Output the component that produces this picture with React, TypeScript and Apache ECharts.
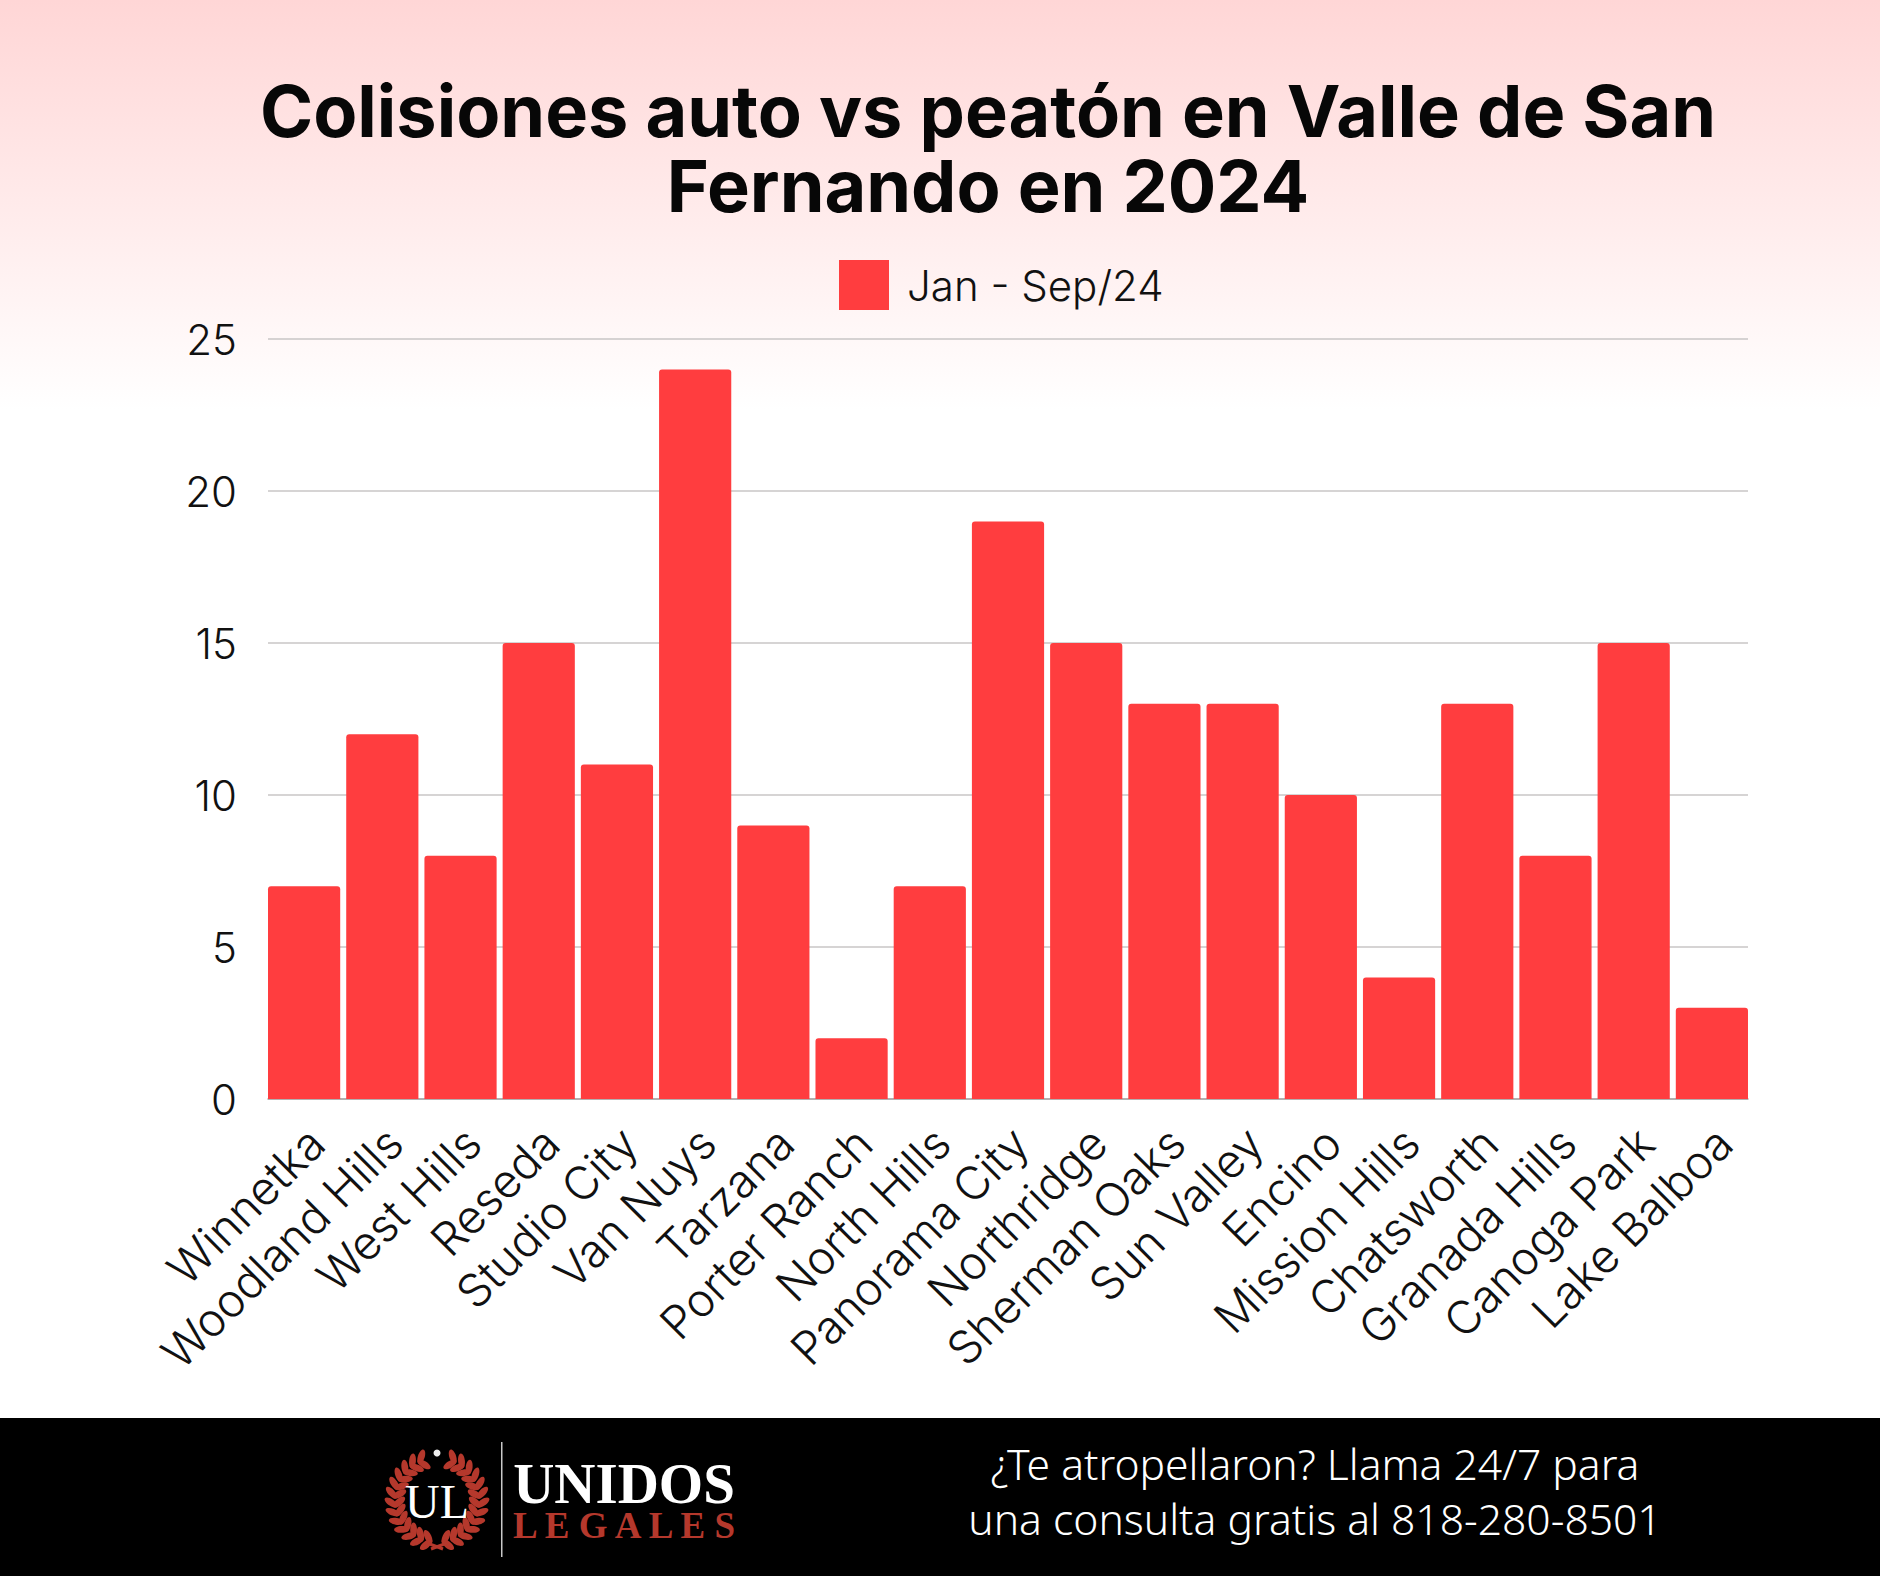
import React, { useEffect, useRef } from "react";
import * as echarts from "echarts";

const categories = ["Winnetka","Woodland Hills","West Hills","Reseda","Studio City","Van Nuys","Tarzana","Porter Ranch","North Hills","Panorama City","Northridge","Sherman Oaks","Sun Valley","Encino","Mission Hills","Chatsworth","Granada Hills","Canoga Park","Lake Balboa"];
const collisions = [7,12,8,15,11,24,9,2,7,19,15,13,13,10,4,13,8,15,3];
const seriesName = "Jan - Sep/24";
const titleLines = "Colisiones auto vs peatón en Valle de San\nFernando en 2024";
const footerLines = ["¿Te atropellaron? Llama 24/7 para", "una consulta gratis al 818-280-8501"];

const RED = "#ff3d3f";
const LOGO_RED = "#b5382c";

function wreathLeaves() {
  const cx = 437, cy = 1500, leaves: any[] = [];
  for (const side of [-1, 1]) {
    for (let i = 0; i < 13; i++) {
      const deg = 20 + i * 12.2;
      const a = (deg * Math.PI) / 180;
      for (const [r, off] of [[38, 38], [46, -38]]) {
        const x = cx + side * r * Math.sin(a);
        const y = cy - r * Math.cos(a);
        leaves.push({
          type: "ellipse", x, y, rotation: -side * (a + (off * Math.PI) / 180),
          shape: { cx: 0, cy: 0, rx: 3.4, ry: 7.5 },
          style: { fill: LOGO_RED }, silent: true,
        });
      }
    }
    leaves.push({
      type: "line", shape: { x1: cx + side * 10, y1: 1543, x2: cx - side * 6, y2: 1549 },
      style: { stroke: LOGO_RED, lineWidth: 3 }, silent: true,
    });
  }
  return leaves;
}

export default function App() {
  const ref = useRef<HTMLDivElement>(null);
  useEffect(() => {
    const chart = echarts.init(ref.current!, undefined, { renderer: "svg" });
    chart.setOption({
      animation: false,
      backgroundColor: new echarts.graphic.LinearGradient(0, 0, 0, 1, [
        { offset: 0, color: "#ffd6d6" },
        { offset: 0.26, color: "#ffffff" },
        { offset: 1, color: "#ffffff" },
      ]),
      title: {
        text: titleLines, left: 983, top: 68, textAlign: "center",
        textStyle: { fontFamily: "Inter", fontWeight: 700, fontSize: 72, lineHeight: 75, color: "#070707" },
      },
      legend: {
        left: 834, top: 255, itemWidth: 50, itemHeight: 50, icon: "rect",
        textStyle: { fontFamily: "Inter", fontWeight: 300, fontSize: 42, color: "#111111", padding: [0, 0, 0, 13] },
      },
      grid: [
        { left: 268, right: 132, top: 339, bottom: 477 },
        { left: 265, right: 129, top: 339, bottom: 477 },
        { left: 277, right: 117, top: 339, bottom: 477 },
      ],
      xAxis: [
        {
          type: "value", gridIndex: 0, min: 0, max: 1,
          axisLine: { show: true, lineStyle: { color: "#a8a4a4", width: 1.5 } },
          axisTick: { show: false }, axisLabel: { show: false }, splitLine: { show: false },
        },
        {
          type: "category", gridIndex: 1, data: categories,
          axisLine: { show: false }, axisTick: { show: false }, axisLabel: { show: false },
        },
        {
          type: "category", gridIndex: 2, data: categories,
          axisLine: { show: false },
          axisTick: { show: false },
          axisLabel: {
            rotate: 45, interval: 0, margin: 36,
            fontFamily: "Inter", fontWeight: 300, fontSize: 46, color: "#111111",
          },
        },
      ],
      yAxis: [
        {
          type: "value", gridIndex: 0, min: 0, max: 25, interval: 5,
          axisLine: { show: false }, axisTick: { show: false },
          axisLabel: { margin: 31, fontFamily: "Inter", fontWeight: 300, fontSize: 42, color: "#111111" },
          splitLine: { lineStyle: { color: "#c9c6c6", width: 1.5 } },
        },
        { type: "value", gridIndex: 1, show: false, min: 0, max: 25, interval: 5, splitLine: { show: false } },
        { type: "value", gridIndex: 2, show: false, min: 0, max: 25, interval: 5, splitLine: { show: false } },
      ],
      series: [{
        name: seriesName, type: "bar", xAxisIndex: 1, yAxisIndex: 1, data: collisions, barCategoryGap: "7.7%",
        itemStyle: { color: RED, borderRadius: [3, 3, 0, 0] },
      }],
      graphic: [
        { type: "rect", shape: { x: 0, y: 1418, width: 1880, height: 158 }, style: { fill: "#000000" }, silent: true },
        { type: "text", x: 1315, y: 1463, style: { text: footerLines[0], fill: "#ffffff", font: "300 42.6px 'Noto Sans'", textAlign: "center", textVerticalAlign: "middle" } },
        { type: "text", x: 1315, y: 1518, style: { text: footerLines[1], fill: "#ffffff", font: "300 42.6px 'Noto Sans'", textAlign: "center", textVerticalAlign: "middle" } },
        ...wreathLeaves(),
        { type: "circle", shape: { cx: 437, cy: 1453, r: 3.5 }, style: { fill: "#eeeeee" } },
        { type: "text", x: 437, y: 1501, style: { text: "UL", fill: "#ffffff", font: "400 48px 'Liberation Serif'", textAlign: "center", textVerticalAlign: "middle" } },
        { type: "rect", shape: { x: 501, y: 1442, width: 1.5, height: 115 }, style: { fill: "#c8c8c8" } },
        { type: "text", x: 624, y: 1483, style: { text: "UNIDOS", fill: "#ffffff", font: "700 57px 'Liberation Serif'", textAlign: "center", textVerticalAlign: "middle" } },
        { type: "text", x: 624, y: 1525, style: { text: "L E G A L E S", fill: LOGO_RED, font: "700 37px 'Liberation Serif'", textAlign: "center", textVerticalAlign: "middle" } },
      ],
    });
    return () => chart.dispose();
  }, []);
  return <div ref={ref} style={{ position: "absolute", left: 0, top: 0, width: 1880, height: 1576 }} />;
}
